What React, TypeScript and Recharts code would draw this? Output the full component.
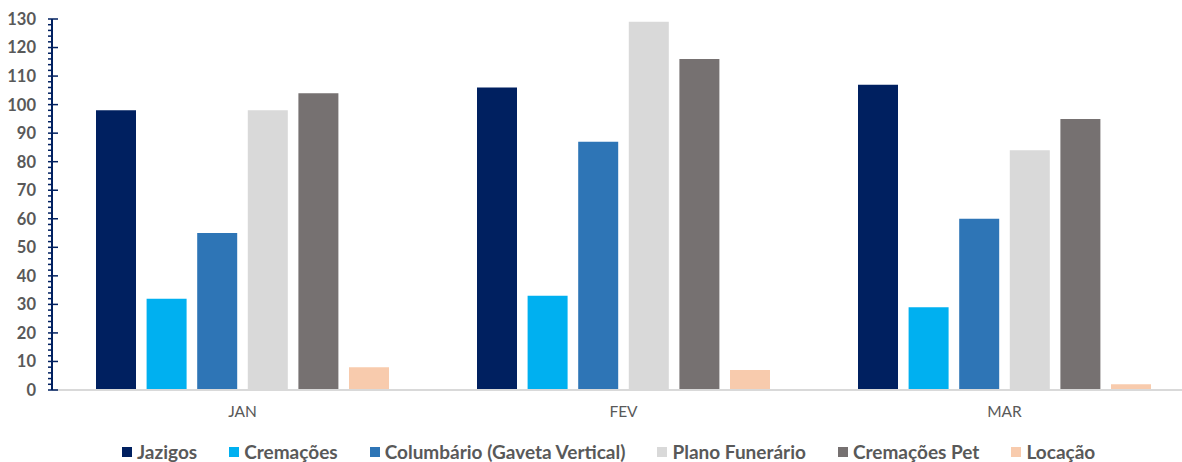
import React from 'react';
import { BarChart, Bar, XAxis, YAxis, Legend } from 'recharts';

const months = ['JAN', 'FEV', 'MAR'];

const jazigos = [98, 106, 107];
const cremacoes = [32, 33, 29];
const columbario = [55, 87, 60];
const planoFunerario = [98, 129, 84];
const cremacoesPet = [104, 116, 95];
const locacao = [8, 7, 2];

const seriesNames = [
  'Jazigos',
  'Cremações',
  'Columbário (Gaveta Vertical)',
  'Plano Funerário',
  'Cremações Pet',
  'Locação',
];
const seriesKeys = ['jazigos', 'cremacoes', 'columbario', 'plano', 'pet', 'locacao'];
const COLORS = ['#002060', '#00B0F0', '#2E75B6', '#D9D9D9', '#767171', '#F8CBAD'];

// minor ticks every 2, labels only on multiples of 10
const yTicks = Array.from({ length: 66 }, (_, i) => i * 2);

const data = months.map((month, i) => ({
  month,
  jazigos: jazigos[i],
  cremacoes: cremacoes[i],
  columbario: columbario[i],
  plano: planoFunerario[i],
  pet: cremacoesPet[i],
  locacao: locacao[i],
}));

const FONT = 'Lato, "Open Sans", sans-serif';

const YTick = (props: any) => {
  const { x, y, payload } = props;
  const major = payload.value % 10 === 0;
  return (
    <g>
      <line x1={x - 4} x2={major ? x + 6 : x} y1={y} y2={y} stroke="#002060" strokeWidth={1.5} />
      {major && (
        <text
          x={x - 16}
          y={y}
          dy="0.36em"
          textAnchor="end"
          fill="#595959"
          fontSize={16.5}
          fontWeight={700}
          fontFamily={FONT}
        >
          {payload.value}
        </text>
      )}
    </g>
  );
};

const LegendContent = () => (
  <div
    style={{
      height: 42,
      boxSizing: 'border-box',
      paddingTop: 21,
      paddingLeft: 122,
      display: 'flex',
      alignItems: 'center',
      fontFamily: FONT,
      fontWeight: 700,
      fontSize: 19,
      lineHeight: '20px',
      color: '#595959',
      whiteSpace: 'nowrap',
    }}
  >
    {seriesNames.map((name, i) => (
      <div key={name} style={{ display: 'flex', alignItems: 'center', marginRight: 32 }}>
        <span style={{ width: 10, height: 10, background: COLORS[i], marginRight: 5, display: 'inline-block' }} />
        <span>{name}</span>
      </div>
    ))}
  </div>
);

export default function App() {
  return (
    <div style={{ position: 'absolute', left: 0, top: 0, width: 1182, height: 462, overflow: 'hidden', background: '#fff' }}>
      <BarChart
        width={1195}
        height={462}
        data={data}
        margin={{ top: 19, right: 0, left: 0, bottom: 0 }}
        barSize={40}
        barGap={10.6}
      >
        <XAxis
          dataKey="month"
          axisLine={{ stroke: '#D9D9D9', strokeWidth: 2 }}
          tickLine={false}
          tickSize={0}
          tickMargin={16}
          height={30}
          tick={{ fill: '#595959', fontSize: 15.5, fontFamily: FONT }}
        />
        <YAxis
          domain={[0, 130]}
          ticks={yTicks}
          interval={0}
          width={52}
          tickSize={0}
          tickMargin={0}
          tickLine={false}
          axisLine={{ stroke: '#002060', strokeWidth: 2 }}
          tick={<YTick />}
        />
        <Legend
          verticalAlign="bottom"
          wrapperStyle={{ left: 0, width: 1182 }}
          content={<LegendContent />}
        />
        {seriesKeys.map((key, i) => (
          <Bar key={key} dataKey={key} name={seriesNames[i]} fill={COLORS[i]} isAnimationActive={false} />
        ))}
      </BarChart>
    </div>
  );
}
